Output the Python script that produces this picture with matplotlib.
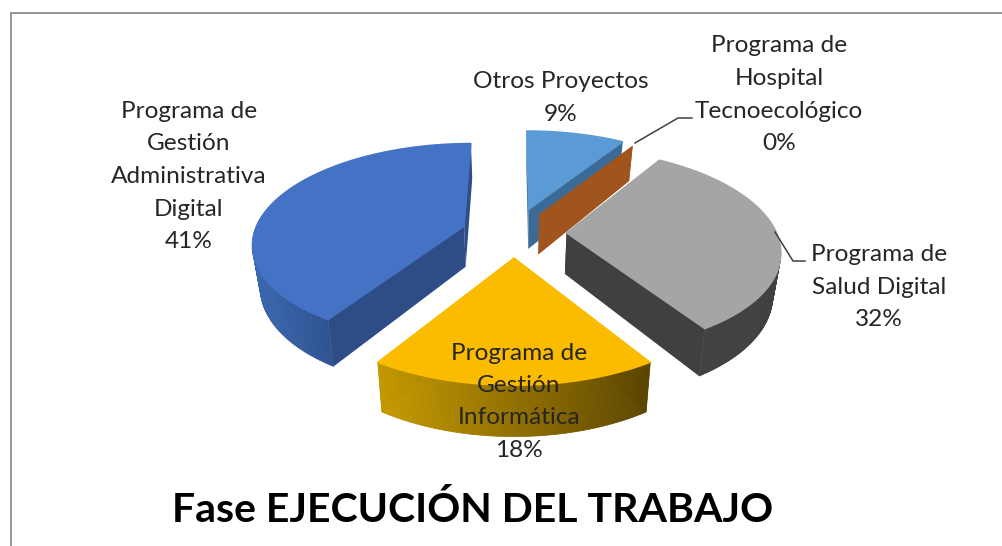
import numpy as np
import matplotlib
matplotlib.use("Agg")
import matplotlib.pyplot as plt
from matplotlib.patches import Polygon

# orden de Excel, empezando a las 12 en sentido horario
labels = ["Otros Proyectos", "Programa de\nHospital\nTecnoecológico", "Programa de\nSalud Digital",
          "Programa de\nGestión\nInformática", "Programa de\nGestión\nAdministrativa\nDigital"]
values = [9, 0, 32, 18, 41]
title = "Fase EJECUCIÓN DEL TRABAJO"

top_colors = ["#5b9bd5", "#a0541e", "#a5a5a5", "#fbbc00", "#4472c4"]
wall_colors = ["#3c6a96", "#a0541e", "#404040", "#5c4500", "#2e4d87"]
# gradiente de la pared exterior (izquierda, derecha)
arc_left = ["#3c6a96", "#a0541e", "#404040", "#c69a00", "#3a68ae"]
arc_right = ["#3c6a96", "#a0541e", "#404040", "#5c4500", "#2f5292"]
explode = [0.26, 0.23, 0.25, 0.245, 0.25]

pct_pos = [(561, 113), (779, 142), (879, 318), (519, 449), (189, 240)]

# proyeccion del plato: perspectiva simple
CX, CY = 514, 233
A, B = 210, 98
K = 0.16
DEPTH = 41


def project(X, Y, bottom=False):
    s = 1 / (1 + K * Y)
    x = A * X * s
    y = CY - B * Y * s
    if bottom:
        return CX + x * 0.97, y + DEPTH * s
    return CX + x, y


def hex2rgb(c):
    return np.array(matplotlib.colors.to_rgb(c))


fig = plt.figure(figsize=(10.02, 5.46), dpi=100)
ax = fig.add_axes([0, 0, 1, 1])
ax.set_xlim(0, 1002)
ax.set_ylim(546, 0)
ax.axis("off")

# marco del grafico
ax.plot([11, 11, 1002], [546, 13, 13], color="#8c8c8c", lw=1.3, solid_joinstyle="miter")

total = sum(values)
edges = np.radians(np.cumsum([0] + values) * 360 / total)


def draw_slice(i, z):
    a0, a1 = edges[i], edges[i + 1]
    mid = (a0 + a1) / 2
    ox, oy = explode[i] * np.sin(mid), explode[i] * np.cos(mid)

    # paredes radiales
    for a in (a0, a1):
        X = np.array([ox, ox + np.sin(a)])
        Y = np.array([oy, oy + np.cos(a)])
        tx, ty = project(X, Y)
        bx, by = project(X, Y, True)
        pts = np.column_stack([np.r_[tx, bx[::-1]], np.r_[ty, by[::-1]]])
        ax.add_patch(Polygon(pts, fc=wall_colors[i], ec="none", zorder=z))

    if values[i] == 0:
        return

    # pared exterior con gradiente, solo la parte de delante
    t = np.linspace(a0, a1, 160)
    front = t[np.cos(t) < 0.12]
    if len(front):
        X = ox + np.sin(front)
        Y = oy + np.cos(front)
        tx, ty = project(X, Y)
        bx, by = project(X, Y, True)
        lo, hi = tx.min(), tx.max()
        for j in range(len(front) - 1):
            f = (tx[j] - lo) / (hi - lo)
            col = hex2rgb(arc_left[i]) * (1 - f) + hex2rgb(arc_right[i]) * f
            pts = [(tx[j], ty[j]), (tx[j + 1], ty[j + 1]), (bx[j + 1], by[j + 1]), (bx[j], by[j])]
            ax.add_patch(Polygon(pts, fc=col, ec=col, lw=0.5, zorder=z + 0.1))

    # cara de arriba
    X = np.r_[ox, ox + np.sin(t)]
    Y = np.r_[oy, oy + np.cos(t)]
    tx, ty = project(X, Y)
    ax.add_patch(Polygon(np.column_stack([tx, ty]), fc=top_colors[i], ec=top_colors[i], lw=1, zorder=z + 0.2))


# de atras hacia adelante
for z, i in enumerate([0, 1, 4, 2, 3]):
    draw_slice(i, z + 2)

# lineas guia
ax.plot([635, 678, 692], [143, 118, 118], color="#404040", lw=1.1, zorder=8)
ax.plot([775, 793, 805], [232, 261, 261], color="#404040", lw=1.1, zorder=8)

plt.rcParams["font.family"] = ["Lato", "DejaVu Sans"]
for i in range(len(values)):
    lines = labels[i].split("\n")
    n = len(lines)
    px, py = pct_pos[i]
    # cada linea por separado para clavar el interlineado
    for j, line in enumerate(lines):
        ax.text(px, py + 1.5 - 32.5 * (n - j), line, ha="center", va="center", fontsize=17.6,
                color="#262626", zorder=10)
    ax.text(px, py + 1.5, "%d%%" % values[i], ha="center", va="center", fontsize=17.6, color="#262626", zorder=10)

ax.text(473, 522, title, ha="center", va="baseline", fontsize=29.5, fontweight="bold", color="black", zorder=10)

fig.savefig("out.png", dpi=100)
